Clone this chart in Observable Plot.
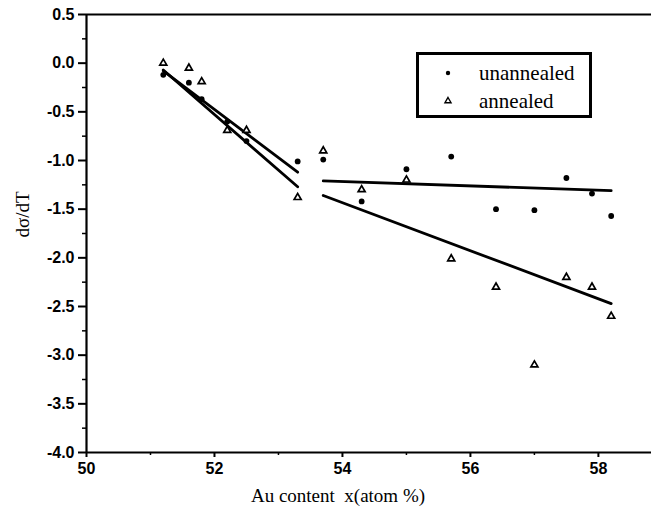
<!DOCTYPE html>
<html>
<head>
<meta charset="utf-8">
<script src="https://cdn.jsdelivr.net/npm/d3@7"></script>
<script src="https://cdn.jsdelivr.net/npm/@observablehq/plot@0.6"></script>
<style>
  html, body { margin: 0; padding: 0; background: #fff; }
  #wrap { position: relative; width: 651px; height: 518px; }
  #legend { position: absolute; left: 416px; top: 52px; }
</style>
</head>
<body>
<div id="wrap"></div>
<script>
// Au content (atom %) of each film
const unannealedX = [51.2, 51.6, 51.8, 52.2, 52.5, 53.3, 53.7, 54.3, 55.0, 55.7, 56.4, 57.0, 57.5, 57.9, 58.2];
const unannealedY = [-0.12, -0.20, -0.37, -0.60, -0.80, -1.01, -0.99, -1.42, -1.09, -0.96, -1.50, -1.51, -1.18, -1.34, -1.57];
const annealedX = [51.2, 51.6, 51.8, 52.2, 52.5, 53.3, 53.7, 54.3, 55.0, 55.7, 56.4, 57.0, 57.5, 57.9, 58.2];
const annealedY = [0.0, -0.05, -0.19, -0.69, -0.69, -1.38, -0.90, -1.30, -1.20, -2.01, -2.30, -3.10, -2.20, -2.30, -2.60];

// Linear fits, one segment per series and composition range (start and end points)
const fitSeg = ["u1", "u1", "a1", "a1", "u2", "u2", "a2", "a2"];
const fitX = [51.2, 53.3, 51.2, 53.3, 53.7, 58.2, 53.7, 58.2];
const fitY = [-0.08, -1.12, -0.07, -1.27, -1.21, -1.31, -1.36, -2.47];

// Axis ticks
const xMajor = [50, 52, 54, 56, 58];
const xMinor = [51, 53, 55, 57];
const yMajor = [0.5, 0.0, -0.5, -1.0, -1.5, -2.0, -2.5, -3.0, -3.5, -4.0];
const yMinor = [0.25, -0.25, -0.75, -1.25, -1.75, -2.25, -2.75, -3.25, -3.75];
const xDomain = [50, 58.83];
const yDomain = [-4.0, 0.5];

const seriesNames = ["unannealed", "annealed"];
const xLabel = "Au content  x(atom %)";
const yLabel = "dσ/dT";

const unannealed = unannealedX.map((x, i) => ({x, y: unannealedY[i]}));
const annealed = annealedX.map((x, i) => ({x, y: annealedY[i]}));
const fits = fitX.map((x, i) => ({x, y: fitY[i], seg: fitSeg[i]}));

const tickFont = {fontFamily: "'Liberation Sans', Arial, sans-serif", fontWeight: "bold", fontSize: 16, fill: "#000"};
const serif = "'Liberation Serif', 'Times New Roman', serif";

const chart = Plot.plot({
  width: 651,
  height: 518,
  marginLeft: 86,
  marginRight: 0,
  marginTop: 14,
  marginBottom: 66,
  style: {background: "#fff", color: "#000", overflow: "visible"},
  x: {domain: xDomain},
  y: {domain: yDomain},
  marks: [
    Plot.axisX({ticks: xMajor, tickSize: 5, tickPadding: 5, stroke: "#000", strokeWidth: 2, tickFormat: d => String(d), label: null, ...tickFont}),
    Plot.axisX({ticks: xMinor, tickSize: 3, stroke: "#000", strokeWidth: 1.5, text: null, label: null}),
    Plot.axisY({ticks: yMajor, tickSize: 8, tickPadding: 4, stroke: "#000", strokeWidth: 2, tickFormat: d => d.toFixed(1), label: null, ...tickFont}),
    Plot.axisY({ticks: yMinor, tickSize: 4, stroke: "#000", strokeWidth: 1.5, text: null, label: null}),
    Plot.ruleX([xDomain[0]], {stroke: "#000", strokeWidth: 2.2}),
    Plot.ruleY([yDomain[0]], {stroke: "#000", strokeWidth: 2.2}),
    Plot.ruleY([yDomain[1]], {stroke: "#000", strokeWidth: 2}),
    Plot.line(fits, {x: "x", y: "y", z: "seg", stroke: "#000", strokeWidth: 2.8}),
    Plot.dot(unannealed, {x: "x", y: "y", r: 2.9, fill: "#000", stroke: null}),
    Plot.dot(annealed, {x: "x", y: "y", symbol: "triangle", r: 2.6, fill: "#fff", stroke: "#000", strokeWidth: 1.7}),
    Plot.text([xLabel], {frameAnchor: "bottom", text: d => d, dx: -31, dy: 49, fill: "#000", fontFamily: serif, fontSize: 19}),
    Plot.text([yLabel], {frameAnchor: "left", text: d => d, rotate: -90, dx: -64, dy: 4, fill: "#000", fontFamily: serif, fontSize: 19})
  ]
});

const wrap = document.getElementById("wrap");
wrap.appendChild(chart);

// Legend box with the two marker styles
const lw = 176, lh = 66;
const legend = d3.select(wrap).append("svg")
  .attr("id", "legend")
  .attr("width", lw)
  .attr("height", lh);
legend.append("rect")
  .attr("x", 1.5).attr("y", 1.5)
  .attr("width", lw - 3).attr("height", lh - 3)
  .attr("fill", "#fff").attr("stroke", "#000").attr("stroke-width", 3);
const rows = legend.selectAll("g.row").data(seriesNames).join("g")
  .attr("class", "row")
  .attr("transform", (d, i) => `translate(0,${21 + i * 28})`);
rows.each(function(d, i) {
  const g = d3.select(this);
  if (i === 0) {
    g.append("circle").attr("cx", 32).attr("cy", 0).attr("r", 2.2).attr("fill", "#000");
  } else {
    g.append("path").attr("transform", "translate(32,0)")
      .attr("d", d3.symbol(d3.symbolTriangle, 16)())
      .attr("fill", "#fff").attr("stroke", "#000").attr("stroke-width", 1.4);
  }
  g.append("text")
    .attr("x", 63).attr("y", 0).attr("dy", "0.32em")
    .attr("fill", "#000")
    .attr("font-family", serif).attr("font-size", 21)
    .text(d);
});
</script>
</body>
</html>
